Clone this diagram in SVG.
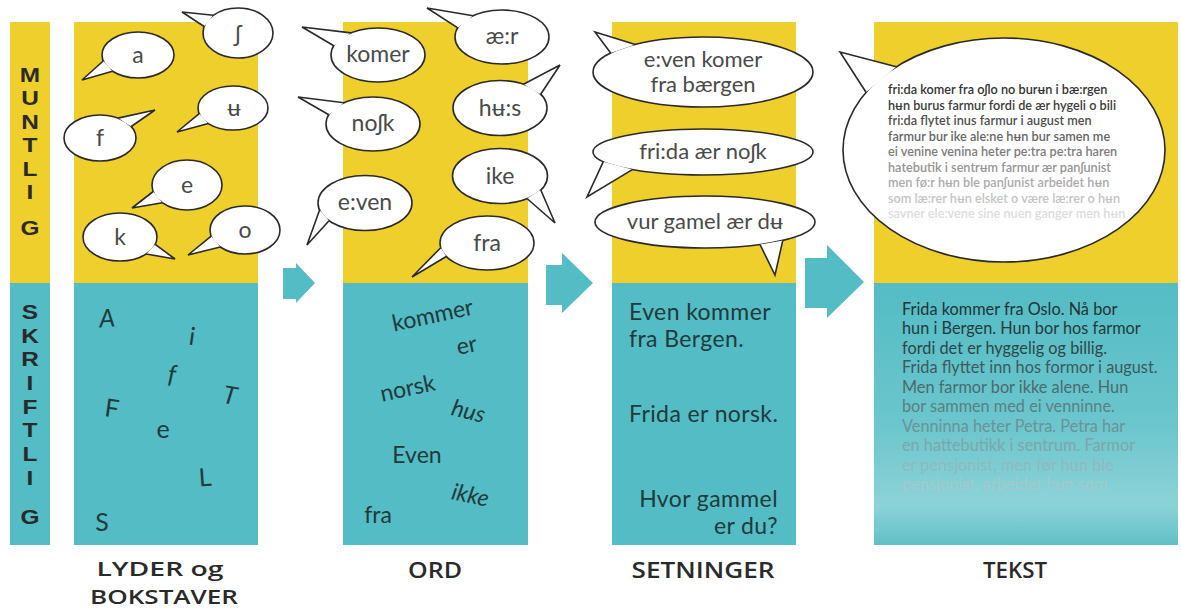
<svg xmlns="http://www.w3.org/2000/svg" width="1181" height="610" viewBox="0 0 1181 610">
<defs>
<style>
.yel{fill:#EECF2C}
.teal{fill:#53BCC4}
.vl{font-family:"Liberation Sans",Arial,sans-serif;font-weight:700;font-size:20px;fill:#2a2a2a;text-anchor:middle}
.bub{fill:#fff;stroke:#2a2a2a;stroke-width:1.6;stroke-linejoin:miter}
.bt{font-family:Lato,"Noto Sans","DejaVu Sans",sans-serif;font-size:23px;fill:#4a4a4a;text-anchor:middle}
.bt3{font-family:Lato,"Noto Sans","DejaVu Sans",sans-serif;font-size:22px;fill:#4a4a4a;text-anchor:middle}
.tt{font-family:Lato,"Noto Sans","DejaVu Sans",sans-serif;font-size:25px;fill:#213a3c;text-anchor:middle}
.tw{font-family:Lato,"Noto Sans","DejaVu Sans",sans-serif;font-size:23px;fill:#213a3c;text-anchor:middle}
.ts{font-family:Lato,"Noto Sans","DejaVu Sans",sans-serif;font-size:23px;letter-spacing:0.4px;fill:#213a3c}
.big{font-family:Lato,"Noto Sans","DejaVu Sans",sans-serif;font-size:12.7px;font-weight:600}
.tx{font-family:Lato,"Noto Sans","DejaVu Sans",sans-serif;font-size:16.3px}
.lab{font-family:"Open Sans","Liberation Sans",sans-serif;font-weight:600;font-size:22px;fill:#2a2a2a;text-anchor:middle}
.lab2{font-family:"Open Sans","Liberation Sans",sans-serif;font-weight:600;font-size:20px;fill:#2a2a2a;text-anchor:middle}
.arr{fill:#53BCC4}
</style>
<linearGradient id="g4" x1="0" y1="0" x2="0" y2="1">
<stop offset="0" stop-color="#53BCC4"/>
<stop offset="0.55" stop-color="#6CC6CD"/>
<stop offset="0.85" stop-color="#8CD3D8"/>
<stop offset="1" stop-color="#60C0C7"/>
</linearGradient>
<clipPath id="bigclip"><ellipse cx="1004" cy="150" rx="158" ry="109"/></clipPath>
</defs>
<rect width="1181" height="610" fill="#fff"/>

<g id="side-labels">
<rect class="yel" x="10" y="22" width="40" height="261"/>
<rect class="teal" x="10" y="283" width="40" height="262"/>
<g transform="translate(30 0) scale(1.22 1)">
<text class="vl" x="0" y="82">M</text>
<text class="vl" x="0" y="105.5">U</text>
<text class="vl" x="0" y="129">N</text>
<text class="vl" x="0" y="152.5">T</text>
<text class="vl" x="0" y="176">L</text>
<text class="vl" x="0" y="199.5">I</text>
<text class="vl" x="0" y="235">G</text>
<text class="vl" x="0" y="319">S</text>
<text class="vl" x="0" y="343">K</text>
<text class="vl" x="0" y="366">R</text>
<text class="vl" x="0" y="390">I</text>
<text class="vl" x="0" y="414">F</text>
<text class="vl" x="0" y="437">T</text>
<text class="vl" x="0" y="461">L</text>
<text class="vl" x="0" y="485">I</text>
<text class="vl" x="0" y="524">G</text>
</g>
</g>

<g id="col-lyder">
<rect class="yel" x="74" y="22" width="184" height="261"/>
<rect class="teal" x="74" y="283" width="184" height="262"/>
<g id="b-a"><ellipse class="bub" cx="138" cy="55" rx="36" ry="23"/><path class="bub" d="M103.2,61 L82,80 L112.5,71.3"/><text class="bt" x="138" y="63">a</text></g>
<g id="b-sh"><ellipse class="bub" cx="238" cy="33" rx="35" ry="25"/><path class="bub" d="M204.2,26.5 L182,12 L213.3,15.3"/><text class="bt" x="238" y="42">ʃ</text></g>
<g id="b-u"><ellipse class="bub" cx="233" cy="108" rx="35" ry="22"/><path class="bub" d="M199.2,113.7 L177,132 L208.3,123.6"/><text class="bt" x="234" y="116">ʉ</text></g>
<g id="b-f"><ellipse class="bub" cx="100" cy="138" rx="36" ry="23"/><path class="bub" d="M118,118.1 L155,110 L131.2,126.5"/><text class="bt" x="100" y="146">f</text></g>
<g id="b-e"><ellipse class="bub" cx="187" cy="185" rx="35" ry="25"/><path class="bub" d="M153.2,191.5 L132,208 L162.3,202.7"/><text class="bt" x="187" y="193">e</text></g>
<g id="b-k"><ellipse class="bub" cx="120" cy="237" rx="37" ry="24"/><path class="bub" d="M155.2,244.4 L175,259 L146.2,254"/><text class="bt" x="120" y="245">k</text></g>
<g id="b-o"><ellipse class="bub" cx="245" cy="230" rx="35" ry="24"/><path class="bub" d="M211.2,236.2 L188,255 L220.3,247"/><text class="bt" x="245" y="238">o</text></g>
<text class="tt" x="107" y="327" font-style="italic" transform="rotate(-4 107 318)">A</text>
<text class="tt" x="192" y="345" transform="rotate(8 192 337)">i</text>
<text class="tt" x="172" y="383" font-style="italic" transform="rotate(5 172 375)">f</text>
<text class="tt" x="230" y="404" font-style="italic" transform="rotate(10 230 395)">T</text>
<text class="tt" x="112" y="417" transform="rotate(8 112 408)">F</text>
<text class="tt" x="163" y="438">e</text>
<text class="tt" x="205" y="486" transform="rotate(-4 205 477)">L</text>
<text class="tt" x="102" y="531">S</text>
</g>

<g id="col-ord">
<rect class="yel" x="343" y="22" width="185" height="261"/>
<rect class="teal" x="343" y="283" width="185" height="262"/>
<g id="b-komer"><ellipse class="bub" cx="378" cy="55" rx="47" ry="27"/><path class="bub" d="M333.8,45.8 L302,27 L351,32.9"/><text class="bt" x="378" y="62">komer</text></g>
<g id="b-nosk"><ellipse class="bub" cx="373" cy="124" rx="47" ry="27"/><path class="bub" d="M328.8,114.8 L298,97 L344.1,102.7"/><text class="bt" x="373" y="131">noʃk</text></g>
<g id="b-even"><ellipse class="bub" cx="365" cy="203" rx="47" ry="27.5"/><path class="bub" d="M329,220.7 L307,245 L319.6,210.1"/><text class="bt" x="365" y="210">e:ven</text></g>
<g id="b-aer"><ellipse class="bub" cx="502" cy="37" rx="47" ry="27"/><path class="bub" d="M457.8,27.8 L427,8 L473.1,15.7"/><text class="bt" x="502" y="44">æ:r</text></g>
<g id="b-hus"><ellipse class="bub" cx="500" cy="108" rx="47" ry="27.5"/><path class="bub" d="M523.5,84.2 L560,65 L540.7,94.2"/><text class="bt" x="500" y="116">hʉ:s</text></g>
<g id="b-ike"><ellipse class="bub" cx="500" cy="176" rx="47.5" ry="27.5"/><path class="bub" d="M540.7,189.8 L555,223 L527,198.5"/><text class="bt" x="500" y="184">ike</text></g>
<g id="b-fra"><ellipse class="bub" cx="487" cy="243" rx="47" ry="27"/><path class="bub" d="M446.3,256.5 L412,277 L440.7,247.7"/><text class="bt" x="487" y="251">fra</text></g>
<text class="tw" x="433" y="323" transform="rotate(-12 433 317)">kommer</text>
<text class="tw" x="467" y="353" transform="rotate(-12 467 347)">er</text>
<text class="tw" x="408" y="396" transform="rotate(-12 408 390)">norsk</text>
<text class="tw" x="468" y="419" font-style="italic" transform="rotate(14 468 413)">hus</text>
<text class="tw" x="417" y="463">Even</text>
<text class="tw" x="470" y="503" font-style="italic" transform="rotate(12 470 497)">ikke</text>
<text class="tw" x="378" y="523">fra</text>
</g>

<g id="col-setninger">
<rect class="yel" x="612" y="22" width="184" height="261"/>
<rect class="teal" x="612" y="283" width="184" height="262"/>
<g id="b-s1"><ellipse class="bub" cx="703" cy="72" rx="110" ry="35"/><path class="bub" d="M610.7,52.9 L595,32 L635.3,44.4"/><text class="bt3" x="703" y="67">e:ven komer</text><text class="bt3" x="703" y="92">fra bærgen</text></g>
<g id="b-s2"><ellipse class="bub" cx="703" cy="152" rx="110" ry="23"/><path class="bub" d="M603.3,161.7 L587,197 L632.3,169.6"/><text class="bt3" x="703" y="159">fri:da ær noʃk</text></g>
<g id="b-s3"><ellipse class="bub" cx="705" cy="222" rx="110" ry="26"/><path class="bub" d="M782.8,240.4 L775,275 L760,244.5"/><text class="bt3" x="705" y="229">vur gamel ær dʉ</text></g>
<text class="ts" x="629" y="320">Even kommer</text>
<text class="ts" x="629" y="347">fra Bergen.</text>
<text class="ts" x="629" y="422">Frida er norsk.</text>
<text class="ts" x="778" y="507" text-anchor="end">Hvor gammel</text>
<text class="ts" x="778" y="534" text-anchor="end">er du?</text>
</g>

<g id="col-tekst">
<rect class="yel" x="874" y="22" width="304" height="261"/>
<rect x="874" y="283" width="304" height="262" fill="url(#g4)"/>
<g id="b-big">
<ellipse class="bub" cx="1004" cy="150" rx="161" ry="112"/>
<path class="bub" d="M866,92.3 L840,52 L896.3,66.8"/>
<g clip-path="url(#bigclip)">
<text class="big" x="888" y="94" fill="#333">fri:da komer fra oʃlo no burʉn i bæ:rgen</text>
<text class="big" x="888" y="109.5" fill="#3c3c3c">hʉn burus farmur fordi de ær hygeli o bili</text>
<text class="big" x="888" y="125" fill="#4f4f4f">fri:da flytet inus farmur i august men</text>
<text class="big" x="888" y="140.5" fill="#666">farmur bur ike ale:ne hʉn bur samen me</text>
<text class="big" x="888" y="156" fill="#7d7d7d">ei venine venina heter pe:tra pe:tra haren</text>
<text class="big" x="888" y="171.5" fill="#959595">hatebutik i sentrʉm farmur ær panʃunist</text>
<text class="big" x="888" y="187" fill="#ababab">men fø:r hʉn ble panʃunist arbeidet hʉn</text>
<text class="big" x="888" y="202.5" fill="#c4c4c4">som læ:rer hʉn elsket o være læ:rer o hʉn</text>
<text class="big" x="888" y="218" fill="#dcdcdc">savner ele:vene sine nuen ganger men hʉn</text>
</g>
</g>
<text class="tx" x="902" y="315" fill="#1f3436">Frida kommer fra Oslo. Nå bor</text>
<text class="tx" x="902" y="334" fill="#243b3d">hun i Bergen. Hun bor hos farmor</text>
<text class="tx" x="902" y="353.5" fill="#2f4649">fordi det er hyggelig og billig.</text>
<text class="tx" x="902" y="373" fill="#3d5a5d">Frida flyttet inn hos formor i august.</text>
<text class="tx" x="902" y="392.5" fill="#4a6b6e">Men farmor bor ikke alene. Hun</text>
<text class="tx" x="902" y="412" fill="#5a8083">bor sammen med ei venninne.</text>
<text class="tx" x="902" y="431.5" fill="#6a9396">Venninna heter Petra. Petra har</text>
<text class="tx" x="902" y="451" fill="#7ca7aa">en hattebutikk i sentrum. Farmor</text>
<text class="tx" x="902" y="470.5" fill="#90b9bc">er pensjonist, men før hun ble</text>
<text class="tx" x="902" y="490" fill="#a3c9cc">pensjonist, arbeidet hun som</text>
</g>

<g id="connectors">
<path class="arr" d="M283,268 H296 V263 L315,283 L296,303 V299 H283 Z"/>
<path class="arr" d="M546,265 H562 V253 L593,283 L562,313 V305 H546 Z"/>
<path class="arr" d="M805,258 H827 V245 L864,282 L827,318 V308 H805 Z"/>
</g>

<g id="bottom-labels">
<text class="lab2" x="160" y="576" textLength="127" lengthAdjust="spacingAndGlyphs">LYDER og</text>
<text class="lab2" x="164" y="604" textLength="148" lengthAdjust="spacingAndGlyphs">BOKSTAVER</text>
<text class="lab" x="435" y="578" textLength="54" lengthAdjust="spacingAndGlyphs">ORD</text>
<text class="lab" x="703" y="578" textLength="143" lengthAdjust="spacingAndGlyphs">SETNINGER</text>
<text class="lab" x="1015" y="578" textLength="64" lengthAdjust="spacingAndGlyphs">TEKST</text>
</g>
</svg>
